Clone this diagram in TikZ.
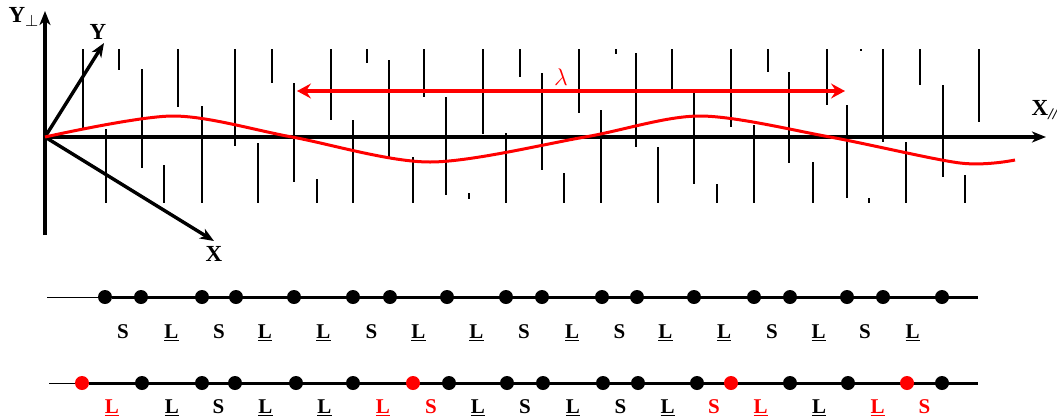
\documentclass[tikz,border=0pt]{standalone}
\usepackage{fontspec}
\setmainfont{Liberation Serif}
\usetikzlibrary{arrows.meta}
\definecolor{wavered}{HTML}{FF0000}
\newcommand{\uL}{\underline{L}}
\pgfdeclarelayer{back}
\pgfsetlayers{back,main}

\begin{document}
\begin{tikzpicture}[
    x=0.5pt, y=-0.5pt,
    font=\fontsize{10.5}{12}\selectfont\bfseries,
    axisline/.style={
        draw=black, line width=1.7pt,
        -{Stealth[length=7pt, width=5.5pt, inset=2pt]}
    },
    stick/.style={draw=black, line width=0.6pt},
    wave/.style={draw=wavered, line width=1.5pt},
    spanline/.style={
        draw=wavered, line width=2pt,
        {Stealth[length=7pt, width=7.5pt, inset=2.5pt]}-{Stealth[length=7pt, width=7.5pt, inset=2.5pt]}
    },
    rodline/.style={draw=black, line width=1.5pt},
    lead/.style={draw=black, line width=0.5pt},
    atom/.style={circle, fill=black, inner sep=0pt, minimum size=7pt},
    redatom/.style={atom, fill=wavered},
    tag/.style={text=black, anchor=base, inner sep=0pt},
    redtag/.style={tag, text=wavered},
    axislabel/.style={font=\fontsize{11.5}{13}\selectfont\bfseries}
]

\useasboundingbox (0,0) rectangle (1057,419);

\foreach \x/\ya/\yb in {
    83/49/130, 106/129/203, 119/49/70, 142/69/168, 164/165/203,
    178/49/107, 202/106/203, 235/49/146, 258/143/203, 272/49/83,
    294/83/182, 317/179/203, 331/49/120, 353/120/203, 367/49/63,
    389/60/157, 413/157/203, 424/49/97, 446/97/195, 469/193/199,
    483/49/134, 506/133/203, 520/49/77, 542/73/170, 564/173/203,
    579/49/113, 601/110/203, 616/49/54, 636/53/147, 658/147/203,
    672/49/90, 694/92/184, 717/184/203, 731/49/127, 754/125/203,
    768/49/72, 789/72/163, 813/162/203, 827/49/105, 847/105/198,
    861/49/51, 869/198/203, 883/49/142, 906/142/203, 920/49/85,
    943/85/177, 965/175/203, 979/49/122
} {
    \draw[stick] (\x,\ya) -- (\x,\yb);
}

\coordinate (O) at (45,137);
\coordinate (Ybot) at (45,235);
\coordinate (Ytop) at (45,11);
\coordinate (Xend) at (1046,137);
\coordinate (Yobl) at (104,43);
\coordinate (Xobl) at (214,241);

\draw[axisline] (Ybot) -- (Ytop);
\draw[axisline] (O) -- (Xend);
\draw[axisline] (O) -- (Yobl);
\draw[axisline] (O) -- (Xobl);

\node[axislabel] (yperp) at (24,17) {Y$_\perp$};
\node[axislabel] (ylab) at (98,32) {Y};
\node[axislabel] (xlab) at (214,254) {X};
\node[axislabel] (xpar) at (1045,110) {X\textsubscript{\itshape //}};

\draw[wave] plot[smooth] coordinates {
    (45,137) (173,116) (292,137) (430,162) (585,137)
    (700,116) (830,137) (960,163) (1015,160)
};

\coordinate (lamL) at (297,91);
\coordinate (lamR) at (845,91);
\draw[spanline] (lamL) -- (lamR);
\node[text=wavered, font=\large] (lam) at (561,77) {$\lambda$};

\foreach \x [count=\i] in {
    105,141,202,236,294,353,390,447,506,542,602,637,694,754,790,847,883,942} {
    \node[atom] (a\i) at (\x,297) {};
}

\foreach \x/\s [count=\i] in {
    82/redatom, 142/atom, 202/atom, 235/atom, 296/atom, 353/atom,
    413/redatom, 449/atom, 507/atom, 543/atom, 603/atom, 638/atom,
    697/atom, 731/redatom, 790/atom, 848/atom, 907/redatom, 942/atom} {
    \node[\s] (b\i) at (\x,383) {};
}

\coordinate (rowA) at (47,297);
\coordinate (rowAend) at (978,297);
\coordinate (rowB) at (49,383);
\coordinate (rowBend) at (978,383);

\begin{pgfonlayer}{back}
    \draw[lead] (rowA) -- (a1);
    \draw[rodline] (a1) -- (rowAend);
    \draw[lead] (rowB) -- (b1);
    \draw[rodline] (b1) -- (rowBend);
\end{pgfonlayer}

\foreach \t [count=\i] in {
    S,\uL,S,\uL,\uL,S,\uL,\uL,S,\uL,S,\uL,\uL,S,\uL,S,\uL} {
    \pgfmathtruncatemacro{\j}{\i+1}
    \path (a\i) -- (a\j) node[midway, yshift=-20.5pt, tag] {\t};
}

\foreach \s/\t [count=\i] in {
    redtag/\uL, tag/\uL, tag/S, tag/\uL, tag/\uL, redtag/\uL,
    redtag/S, tag/\uL, tag/S, tag/\uL, tag/S, tag/\uL,
    redtag/S, redtag/\uL, tag/\uL, redtag/\uL, redtag/S} {
    \pgfmathtruncatemacro{\j}{\i+1}
    \path (b\i) -- (b\j) node[midway, yshift=-15pt, \s] {\t};
}

\end{tikzpicture}
\end{document}
